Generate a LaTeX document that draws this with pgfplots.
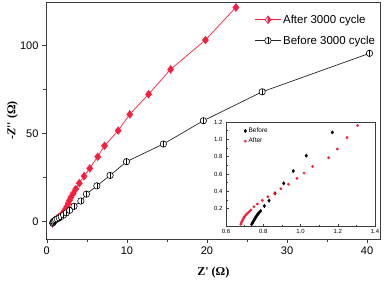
\documentclass[border=0pt]{standalone}
\usepackage{fontspec}
\setmainfont{Liberation Sans}
\newfontfamily\serif{Liberation Serif}
\usepackage{pgfplots}
\pgfplotsset{compat=1.18}
\usetikzlibrary{calc}
\definecolor{myred}{RGB}{250,30,60}
\definecolor{axgray}{RGB}{60,60,60}
\pgfdeclareplotmark{halfcirc}{%
  \pgfpathcircle{\pgfpointorigin}{\pgfplotmarksize}%
  \pgfusepathqfillstroke
  \pgfpathmoveto{\pgfqpoint{0pt}{\pgfplotmarksize}}%
  \pgfpathlineto{\pgfqpoint{0pt}{-\pgfplotmarksize}}%
  \pgfusepathqstroke}
\pgfdeclareplotmark{halfdiam}{%
  \pgfpathmoveto{\pgfqpoint{0pt}{\pgfplotmarksize}}%
  \pgfpathlineto{\pgfqpoint{0.8\pgfplotmarksize}{0pt}}%
  \pgfpathlineto{\pgfqpoint{0pt}{-\pgfplotmarksize}}%
  \pgfpathlineto{\pgfqpoint{-0.8\pgfplotmarksize}{0pt}}%
  \pgfpathclose
  \pgfusepathqfillstroke
  \pgfsetfillcolor{myred}%
  \pgfpathmoveto{\pgfqpoint{0pt}{\pgfplotmarksize}}%
  \pgfpathlineto{\pgfqpoint{0.8\pgfplotmarksize}{0pt}}%
  \pgfpathlineto{\pgfqpoint{0pt}{-\pgfplotmarksize}}%
  \pgfpathclose
  \pgfusepathqfillstroke}
\begin{document}
\begin{tikzpicture}
\begin{axis}[name=main, scale only axis, width=334.7pt, height=237.3pt,
  xmin=-0.1, xmax=41.7, ymin=-10, ymax=124.5,
  xtick={0,10,20,30,40}, ytick={0,50,100}, minor tick num=1,
  tick align=outside, xtick pos=bottom, ytick pos=left,
  major tick length=4pt, minor tick length=2.5pt,
  tick style={axgray, line width=0.6pt},
  axis line style={axgray, line width=0.8pt},
  ticklabel style={font=\fontsize{11}{13}\selectfont},
  /pgf/number format/assume math mode=true,
  xlabel={\serif\bfseries Z\textquotesingle\ (Ω)},
  ylabel={\serif\bfseries -\textit{Z}\textquotesingle\textquotesingle\ (Ω)},
  xlabel style={font=\fontsize{12}{14}\selectfont, at={(axis description cs:0.5,-0.14)}, anchor=center},
  ylabel style={font=\fontsize{12}{14}\selectfont, at={(axis description cs:-0.1,0.5)}, anchor=center},
  legend style={draw=none, fill=none, at={(0.99,0.955)}, anchor=north east,
    font=\fontsize{11.5}{13}\selectfont, row sep=7pt, inner sep=0pt},
  legend cell align=left,
  legend image code/.code={\draw[mark repeat=2,mark phase=2] plot coordinates {(0cm,0cm) (0.45cm,0cm) (0.9cm,0cm)};}
]
\addplot[myred, line width=0.7pt, mark=halfdiam, mark size=3.6pt, mark options={solid, fill=white, draw=myred, line width=0.6pt}] coordinates {
(0.70,-1.0)(0.75,-0.5)(0.85,0.2)(1.0,0.8)(1.2,1.6)(1.45,2.4)(1.7,3.3)(1.95,4.5)(2.15,5.8)(2.35,7.2)(2.5,8.6)(2.65,10.2)(2.82,12.0)(3.0,13.8)(3.3,16.0)(3.6,18.5)(4.05,21.8)(4.65,25.8)(5.35,30.2)(6.35,36.8)(7.2,43.0)(8.9,51.6)(10.35,60.8)(12.7,72.2)(15.45,86.3)(19.8,102.9)(23.6,121.4)};
\addlegendentry{After 3000 cycle}
\addplot[black!85, line width=0.7pt, mark=halfcirc, mark size=3.2pt, mark options={solid, fill=white, draw=black, line width=0.6pt}] coordinates {
(0.74,-0.8)(0.78,-0.3)(0.85,0.2)(0.95,0.6)(1.1,1.1)(1.3,1.6)(1.55,2.2)(1.8,2.9)(2.1,3.8)(2.45,5.0)(2.85,6.4)(3.4,8.7)(4.25,11.7)(4.95,15.6)(6.25,20.3)(7.9,26.2)(9.95,34.0)(14.55,44.0)(19.55,57.2)(26.9,73.6)(40.3,95.4)};
\addlegendentry{Before 3000 cycle}
\end{axis}
\begin{axis}[name=inset, at={($(main.south west)+(180pt,13.3pt)$)}, anchor=south west,
  scale only axis, width=149pt, height=104pt,
  xmin=0.6, xmax=1.4, ymin=0, ymax=1.2,
  xtick={0.6,0.8,1.0,1.2,1.4}, ytick={0.2,0.4,0.6,0.8,1.0,1.2},
  minor tick num=1, tick align=inside, xtick pos=bottom, ytick pos=left,
  major tick length=2.5pt, minor tick length=1.5pt,
  tick style={axgray, line width=0.5pt},
  axis line style={axgray, line width=0.7pt},
  axis background/.style={fill=white},
  ticklabel style={font=\fontsize{6}{7}\selectfont},
  /pgf/number format/assume math mode=true,
  /pgf/number format/.cd, fixed, fixed zerofill, precision=1, /pgfplots/.cd,
  legend style={draw=none, fill=none, at={(0.12,0.965)}, anchor=north west,
    font=\fontsize{6.5}{7}\selectfont, inner sep=0pt, row sep=0pt},
  legend cell align=left
]
\addplot[only marks, mark=diamond*, mark size=1.7pt, black, mark options={fill=black}] coordinates {
(0.738,0.02)(0.742,0.035)(0.746,0.05)(0.750,0.065)(0.754,0.08)(0.758,0.095)(0.762,0.11)(0.767,0.125)(0.772,0.14)(0.778,0.155)(0.786,0.173)(0.806,0.231)(0.831,0.292)(0.863,0.377)(0.910,0.492)(0.961,0.634)(1.031,0.811)(1.171,1.08)};
\addlegendentry{Before}
\addplot[only marks, mark=*, mark size=1.2pt, myred, mark options={fill=myred, draw=myred}] coordinates {
(0.680,0.02)(0.682,0.035)(0.685,0.05)(0.688,0.065)(0.692,0.08)(0.696,0.095)(0.700,0.11)(0.706,0.125)(0.712,0.14)(0.719,0.155)(0.726,0.17)(0.734,0.185)(0.750,0.223)(0.768,0.254)(0.795,0.296)(0.825,0.338)(0.861,0.373)(0.895,0.430)(0.935,0.481)(0.981,0.550)(1.019,0.611)(1.065,0.688)(1.151,0.788)(1.198,0.888)(1.250,1.02)(1.307,1.16)};
\addlegendentry{After}
\end{axis}
\pgfresetboundingbox
\path[use as bounding box] ($(main.south west)+(-46pt,-42.7pt)$) rectangle ($(main.north east)+(5.3pt,2pt)$);
\end{tikzpicture}
\end{document}
